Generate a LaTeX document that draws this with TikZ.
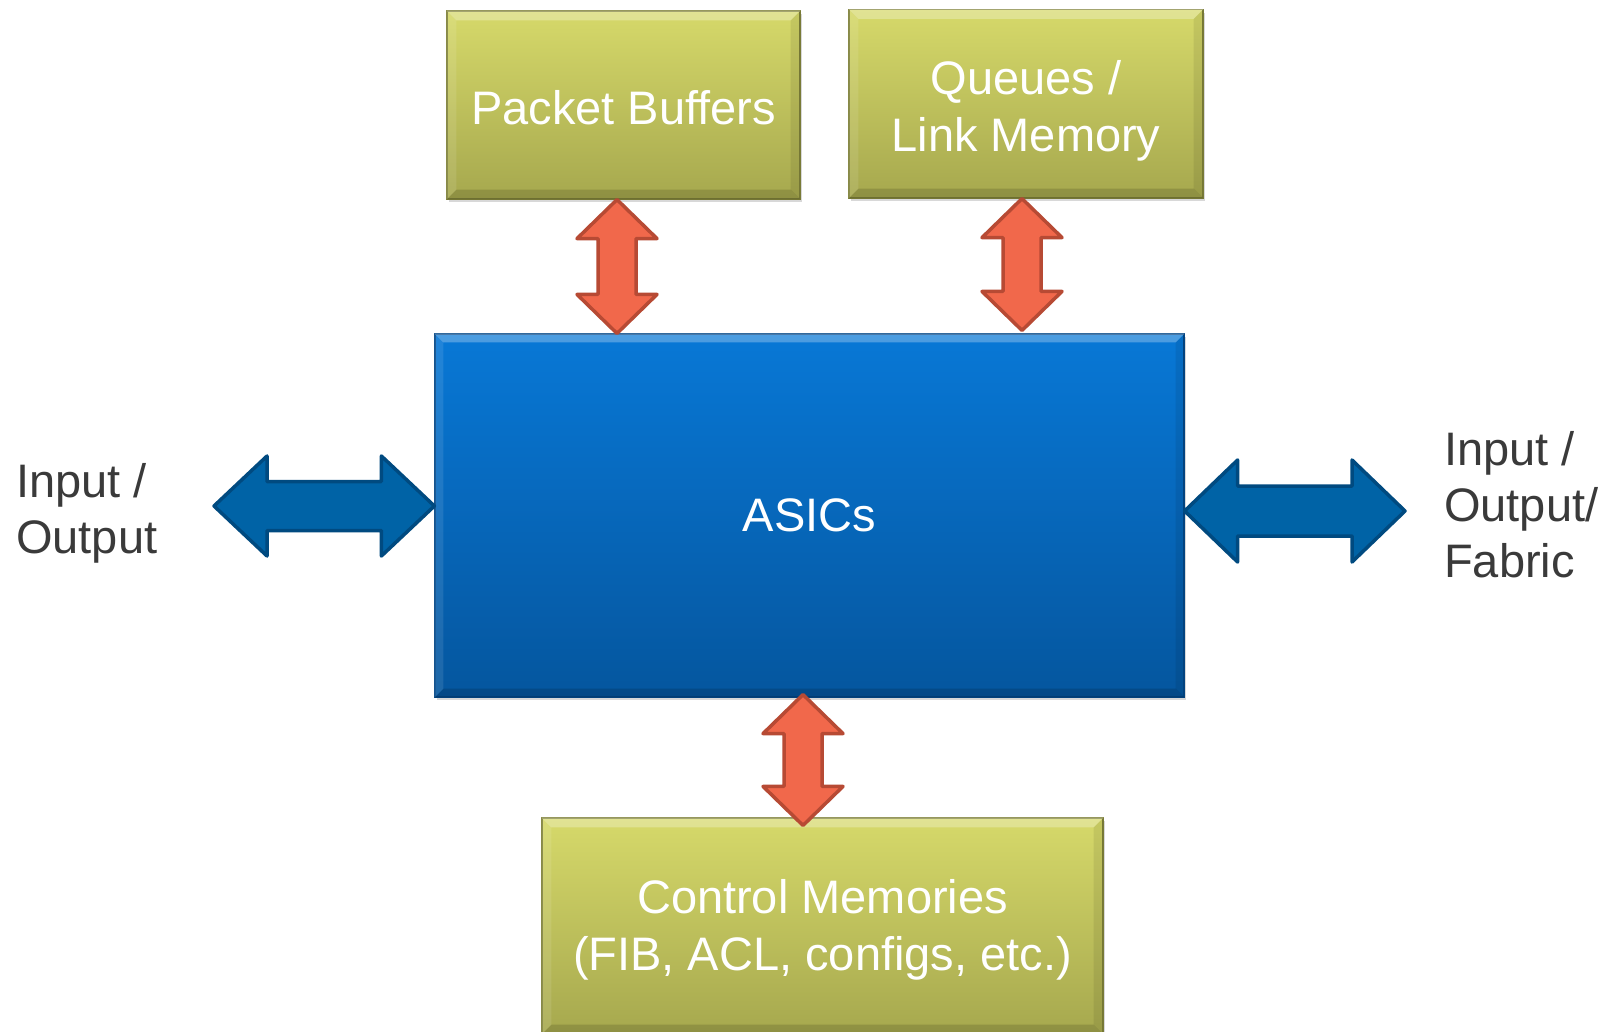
\documentclass[tikz,border=0pt]{standalone}
\usepackage{fontspec}
\setmainfont{Liberation Sans}
\usetikzlibrary{calc,shadows}
\definecolor{olivetop}{RGB}{214,217,106}
\definecolor{olivebot}{RGB}{166,168,78}
\definecolor{olivedark}{RGB}{128,130,58}
\definecolor{bluetop}{RGB}{8,120,214}
\definecolor{bluebot}{RGB}{5,86,158}
\definecolor{bluedark}{RGB}{4,72,136}
\definecolor{orfill}{RGB}{241,104,75}
\definecolor{orline}{RGB}{183,74,52}
\definecolor{arfill}{RGB}{0,99,166}
\definecolor{arline}{RGB}{0,74,128}
\definecolor{txtgray}{RGB}{58,58,58}
\newcommand\ppstrut{\rule[-0.212em]{0pt}{1.117em}}
\newcommand\ppstruthi{\rule[-0.212em]{0pt}{\dimexpr1.117em+6pt\relax}}
% vertical double arrow: #1 style, #2 top tip, #3 bottom tip, #4 half head, #5 half shaft, #6 head length
\newcommand\vbiarrow[6]{%
  \draw[#1] let \p1=(#2), \p2=(#3) in
    (\x1,\y1) -- (\x1+#4,\y1-#6) -- (\x1+#5,\y1-#6) -- (\x1+#5,\y2+#6) -- (\x1+#4,\y2+#6)
    -- (\x1,\y2) -- (\x1-#4,\y2+#6) -- (\x1-#5,\y2+#6) -- (\x1-#5,\y1-#6) -- (\x1-#4,\y1-#6) -- cycle;}
% horizontal double arrow: #1 style, #2 left tip, #3 right tip, #4 half head, #5 half shaft, #6 head length
\newcommand\hbiarrow[6]{%
  \draw[#1] let \p1=(#2), \p2=(#3) in
    (\x1,\y1) -- (\x1+#6,\y1+#4) -- (\x1+#6,\y1+#5) -- (\x2-#6,\y1+#5) -- (\x2-#6,\y1+#4)
    -- (\x2,\y1) -- (\x2-#6,\y1-#4) -- (\x2-#6,\y1-#5) -- (\x1+#6,\y1-#5) -- (\x1+#6,\y1-#4) -- cycle;}
% bevel on a box node: #1 node, #2 inset
\newcommand\bevel[2]{%
  \fill[white,opacity=0.28] (#1.north west) -- (#1.north east) -- ($(#1.north east)+(-#2,#2)$) -- ($(#1.north west)+(#2,#2)$) -- cycle;
  \fill[white,opacity=0.10] (#1.north west) -- ($(#1.north west)+(#2,#2)$) -- ($(#1.south west)+(#2,-#2)$) -- (#1.south west) -- cycle;
  \fill[black,opacity=0.08] (#1.north east) -- ($(#1.north east)+(-#2,#2)$) -- ($(#1.south east)+(-#2,-#2)$) -- (#1.south east) -- cycle;
  \fill[black,opacity=0.14] (#1.south west) -- ($(#1.south west)+(#2,-#2)$) -- ($(#1.south east)+(-#2,-#2)$) -- (#1.south east) -- cycle;}
\begin{document}
\begin{tikzpicture}[x=1pt,y=-1pt,
  olivebox/.style={rectangle, inner sep=0pt, draw=olivedark, line width=1.2pt,
    top color=olivetop, bottom color=olivebot, text=white, align=center,
    font=\fontsize{47}{57}\selectfont,
    drop shadow={opacity=0.3, shadow xshift=2pt, shadow yshift=-3pt}},
  bluebox/.style={rectangle, inner sep=0pt, draw=bluedark, line width=1.2pt,
    top color=bluetop, bottom color=bluebot, text=white, align=center,
    font=\fontsize{47}{57}\selectfont,
    drop shadow={opacity=0.3, shadow xshift=2pt, shadow yshift=-3pt}},
  sidetext/.style={inner sep=0pt, text=txtgray, align=left, font=\fontsize{47}{56}\selectfont},
  orarrow/.style={fill=orfill, draw=orline, line width=3.5pt, line join=round},
  blarrow/.style={fill=arfill, draw=arline, line width=3.5pt, line join=round}]
\useasboundingbox (0,0) rectangle (1614,1031);
\clip (0,0) rectangle (1614,1031);
\fill[white] (0,0) rectangle (1614,1031);

% boxes
\node[olivebox, minimum width=353pt, minimum height=188pt] (pb) at (623.5,105) {Packet Buffers\ppstruthi};
\node[olivebox, minimum width=354pt, minimum height=188.5pt] (qm) at (1026,103.75) {Queues /\ppstruthi\\Link Memory\ppstrut};
\node[bluebox, minimum width=749pt, minimum height=363pt] (asic) at (809.5,515.5) {ASICs\ppstrut};
\node[olivebox, minimum width=561pt, minimum height=216pt] (cm) at (822.5,926) {Control Memories\ppstrut\\(FIB, ACL, configs, etc.)\ppstrut};
\bevel{pb}{10}
\bevel{qm}{10}
\bevel{asic}{9}
\bevel{cm}{10}

% side texts
\node[sidetext, anchor=north west] (ioleft) at (16,454.5) {Input /\ppstrut\\Output\ppstrut};
\node[sidetext, anchor=north west] (ioright) at (1444,422.5) {Input /\ppstrut\\Output/\ppstrut\\Fabric\ppstrut};

% free ends of the blue arrows
\coordinate (lend) at (214,506);
\coordinate (rend) at (1405,511);

% orange arrows
\vbiarrow{orarrow}{617,0 |- pb.south}{617,0 |- asic.north}{40pt}{19pt}{39pt}
\vbiarrow{orarrow}{1022,0 |- qm.south}{$(1022,0 |- asic.north)+(0,-3)$}{40pt}{19pt}{39pt}
\vbiarrow{orarrow}{$(803,0 |- asic.south)+(0,-3)$}{$(803,0 |- cm.north)+(0,8)$}{40pt}{19pt}{39pt}

% blue arrows
\hbiarrow{blarrow}{lend}{asic.west |- lend}{50pt}{24.5pt}{53pt}
\hbiarrow{blarrow}{asic.east |- rend}{rend}{51pt}{25pt}{53pt}
\end{tikzpicture}
\end{document}
